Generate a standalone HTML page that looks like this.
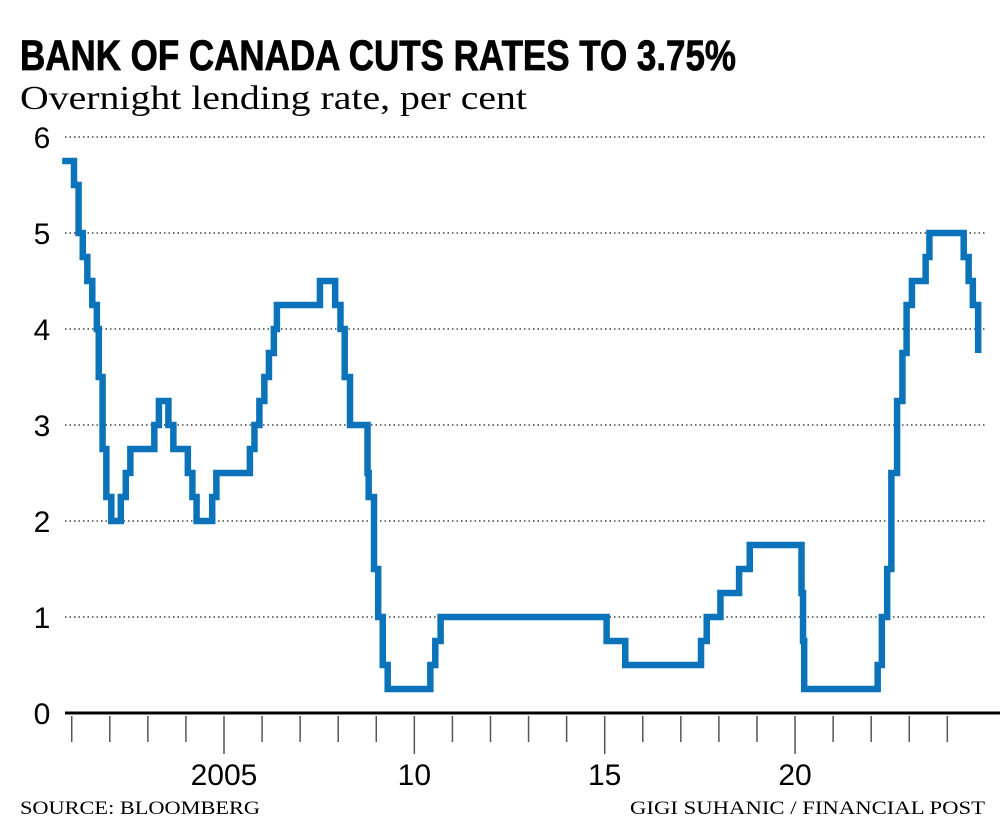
<!DOCTYPE html>
<html><head><meta charset="utf-8"><style>
body{margin:0;background:#fff;width:1000px;height:840px;overflow:hidden}
svg{display:block}
</style></head><body>
<svg width="1000" height="840" xmlns="http://www.w3.org/2000/svg">
<text x="20" y="70" font-family="Liberation Sans Narrow, Liberation Sans, sans-serif" font-weight="bold" font-size="43" stroke="#000" stroke-width="0.8" textLength="716" lengthAdjust="spacingAndGlyphs">BANK OF CANADA CUTS RATES TO 3.75%</text>
<text x="20" y="109" font-family="Liberation Serif, serif" font-size="34" textLength="507" lengthAdjust="spacingAndGlyphs">Overnight lending rate, per cent</text>
<g id="grid"></g><g id="yl"></g><g id="xt"></g>
<line x1="65" y1="713" x2="1000" y2="713" stroke="#000" stroke-width="3"/>
<path id="line" fill="none" stroke="#0a73b9" stroke-width="6.5" stroke-linejoin="miter"/>
<text x="20" y="814" font-family="Liberation Serif, serif" font-size="19" textLength="240" lengthAdjust="spacingAndGlyphs">SOURCE: BLOOMBERG</text>
<text x="985" y="814" text-anchor="end" font-family="Liberation Serif, serif" font-size="19" textLength="355" lengthAdjust="spacingAndGlyphs">GIGI SUHANIC / FINANCIAL POST</text>
</svg>
<script>
const yTicks=[0,1,2,3,4,5,6];
const xYears=[2001,2002,2003,2004,2005,2006,2007,2008,2009,2010,2011,2012,2013,2014,2015,2016,2017,2018,2019,2020,2021,2022,2023,2024];
const xLabels={2005:"2005",2010:"10",2015:"15",2020:"20"};
const dates=[2000.75,2001.06,2001.18,2001.29,2001.41,2001.54,2001.66,2001.71,2001.81,2001.91,2002.04,2002.29,2002.42,2002.54,2003.17,2003.29,2003.54,2003.67,2004.05,2004.17,2004.28,2004.69,2004.8,2005.68,2005.8,2005.93,2006.06,2006.18,2006.31,2006.39,2007.52,2007.92,2008.06,2008.17,2008.31,2008.77,2008.8,2008.94,2009.05,2009.17,2009.3,2010.42,2010.55,2010.69,2015.05,2015.54,2017.53,2017.68,2018.04,2018.53,2018.81,2020.17,2020.21,2020.24,2022.17,2022.28,2022.42,2022.53,2022.68,2022.82,2022.93,2023.07,2023.43,2023.53,2024.43,2024.56,2024.67,2024.81];
const rates=[5.75,5.5,5.0,4.75,4.5,4.25,4.0,3.5,2.75,2.25,2.0,2.25,2.5,2.75,3.0,3.25,3.0,2.75,2.5,2.25,2.0,2.25,2.5,2.75,3.0,3.25,3.5,3.75,4.0,4.25,4.5,4.25,4.0,3.5,3.0,2.5,2.25,1.5,1.0,0.5,0.25,0.5,0.75,1.0,0.75,0.5,0.75,1.0,1.25,1.5,1.75,1.25,0.75,0.25,0.5,1.0,1.5,2.5,3.25,3.75,4.25,4.5,4.75,5.0,4.75,4.5,4.25,3.75];
const x=t=>224+(t-2005)*38.07;
const y=v=>713-v*96;
const NS="http://www.w3.org/2000/svg";
const mk=(p,tag,at)=>{const e=document.createElementNS(NS,tag);for(const k in at)e.setAttribute(k,at[k]);document.getElementById(p).appendChild(e);return e;};
yTicks.forEach(v=>{
 if(v>0){const g=mk('grid','line',{x1:65,x2:985,y1:y(v),y2:y(v),stroke:'#444','stroke-width':1.5,'stroke-dasharray':'1.5 3'});
 
 }
 const t=mk('yl','text',{x:42,y:y(v)+11,'text-anchor':'middle','font-family':'Liberation Sans Narrow, Liberation Sans, sans-serif','font-size':30});
 t.textContent=v;
 
 
});
xYears.forEach(yr=>{
 const long=!!xLabels[yr];
 const l=mk('xt','line',{x1:x(yr),x2:x(yr),y1:716,y2:long?754:742,stroke:'#555','stroke-width':1.5});
 
 
 if(long){const t=mk('xt','text',{x:x(yr),y:785,'text-anchor':'middle','font-family':'Liberation Sans Narrow, Liberation Sans, sans-serif','font-size':30});
 t.textContent=xLabels[yr];
 
 }
});
let d='M'+x(dates[0])+' '+y(rates[0]);
for(let i=1;i<dates.length;i++){d+=' H'+x(dates[i])+' V'+y(rates[i]);}
d+=' H'+x(dates[dates.length-1]);
document.getElementById('line').setAttribute('d',d);
</script>
</body></html>
